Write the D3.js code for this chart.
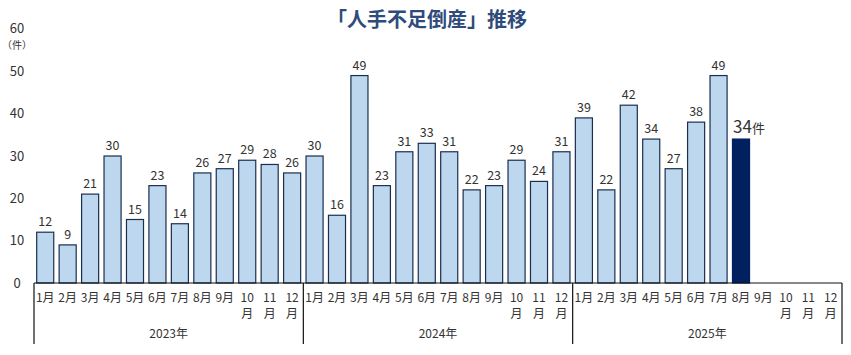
<!DOCTYPE html>
<html><head><meta charset="utf-8">
<script src="https://cdn.jsdelivr.net/npm/d3@7"></script>
<style>body{margin:0;background:#fff;} svg{display:block;font-family:"Noto Sans CJK JP","Noto Sans",sans-serif;}</style>
</head><body>
<svg id="c" width="851" height="355"></svg>
<script>
const years = ["2023年","2024年","2025年"];
const months = ["1月","2月","3月","4月","5月","6月","7月","8月","9月","10月","11月","12月"];
const values2023 = [12,9,21,30,15,23,14,26,27,29,28,26];
const values2024 = [30,16,49,23,31,33,31,22,23,29,24,31];
const values2025 = [39,22,42,34,27,38,49,34,null,null,null,null];
const yTicks = [0,10,20,30,40,50,60];
const highlightIndex = 31;
const title = "「人手不足倒産」推移";

const allVals = [values2023, values2024, values2025];
const data = [];
years.forEach((yr, yi) => months.forEach((m, mi) => data.push({key: yi + "-" + mi, year: yr, month: m, value: allVals[yi][mi]})));

const svg = d3.select("#c");
const pLeft = 34, pRight = 842, pTop = 29, pBottom = 283;
const x = d3.scaleBand().domain(data.map(d => d.key)).range([pLeft, pRight]).paddingInner(0.24).paddingOuter(0.12);
const y = d3.scaleLinear().domain([0, 60]).range([pBottom, pTop]);

svg.append("text").attr("x", 427).attr("y", 27).attr("text-anchor", "middle")
  .attr("font-size", 20).attr("font-weight", "bold").attr("fill", "#2f4b7c").text(title);

// y ticks
const yg = svg.append("g");
yTicks.forEach(t => {
  yg.append("text").attr("x", 17).attr("y", y(t) - (t === 60 ? 1 : 0)).attr("dy", "0.35em").attr("text-anchor", "middle")
    .attr("font-size", 13).attr("fill", "#333").text(t);
});
svg.append("text").attr("x", 17).attr("y", 49).attr("text-anchor", "middle").attr("font-size", 10).attr("fill", "#333").text("（件）");

// bars
const bars = data.filter(d => d.value != null);
svg.append("g").selectAll("rect").data(bars).join("rect")
  .attr("x", d => x(d.key)).attr("width", x.bandwidth())
  .attr("y", d => y(d.value)).attr("height", d => y(0) - y(d.value))
  .attr("fill", (d, i) => i === highlightIndex ? "#002060" : "#bdd7ee")
  .attr("stroke", (d, i) => i === highlightIndex ? "#002060" : "#1a2f4f").attr("stroke-width", 1.2);

// value labels
svg.append("g").selectAll("text").data(bars).join("text")
  .attr("x", (d, i) => x(d.key) + x.bandwidth() / 2 + (i === highlightIndex ? 8 : 0))
  .attr("y", d => y(d.value) - 6)
  .attr("text-anchor", "middle")
  .attr("font-size", (d, i) => i === highlightIndex ? 17 : 12.5)
  .attr("fill", "#333")
  .each(function(d, i) {
    const s = d3.select(this);
    if (i === highlightIndex) {
      s.append("tspan").text(d.value);
      s.append("tspan").attr("font-size", 13).text("件");
    } else s.text(d.value);
  });

// axis line
svg.append("line").attr("x1", pLeft).attr("x2", pRight).attr("y1", pBottom).attr("y2", pBottom).attr("stroke", "#111").attr("stroke-width", 1.2);
// group separators
[0, 12, 24, 36].forEach(i => {
  const xx = i === 36 ? pRight : (i === 0 ? pLeft : x(data[i].key) - x.step() * x.paddingInner() / 2);
  svg.append("line").attr("x1", xx).attr("x2", xx).attr("y1", pBottom).attr("y2", 344).attr("stroke", "#111").attr("stroke-width", 1.2);
});

// month labels
const mg = svg.append("g").attr("font-size", 12).attr("fill", "#333").attr("text-anchor", "middle");
data.forEach(d => {
  const cx = x(d.key) + x.bandwidth() / 2;
  if (d.month.length > 2) {
    mg.append("text").attr("x", cx).attr("y", 302).text(d.month.slice(0, 2));
    mg.append("text").attr("x", cx).attr("y", 318).text("月");
  } else {
    mg.append("text").attr("x", cx).attr("y", 302).text(d.month);
  }
});
// year labels
years.forEach((yr, yi) => {
  const a = x(data[yi * 12].key), b = x(data[yi * 12 + 11].key) + x.bandwidth();
  svg.append("text").attr("x", (a + b) / 2).attr("y", 338).attr("text-anchor", "middle").attr("font-size", 12).attr("fill", "#333").text(yr);
});
</script>
</body></html>
